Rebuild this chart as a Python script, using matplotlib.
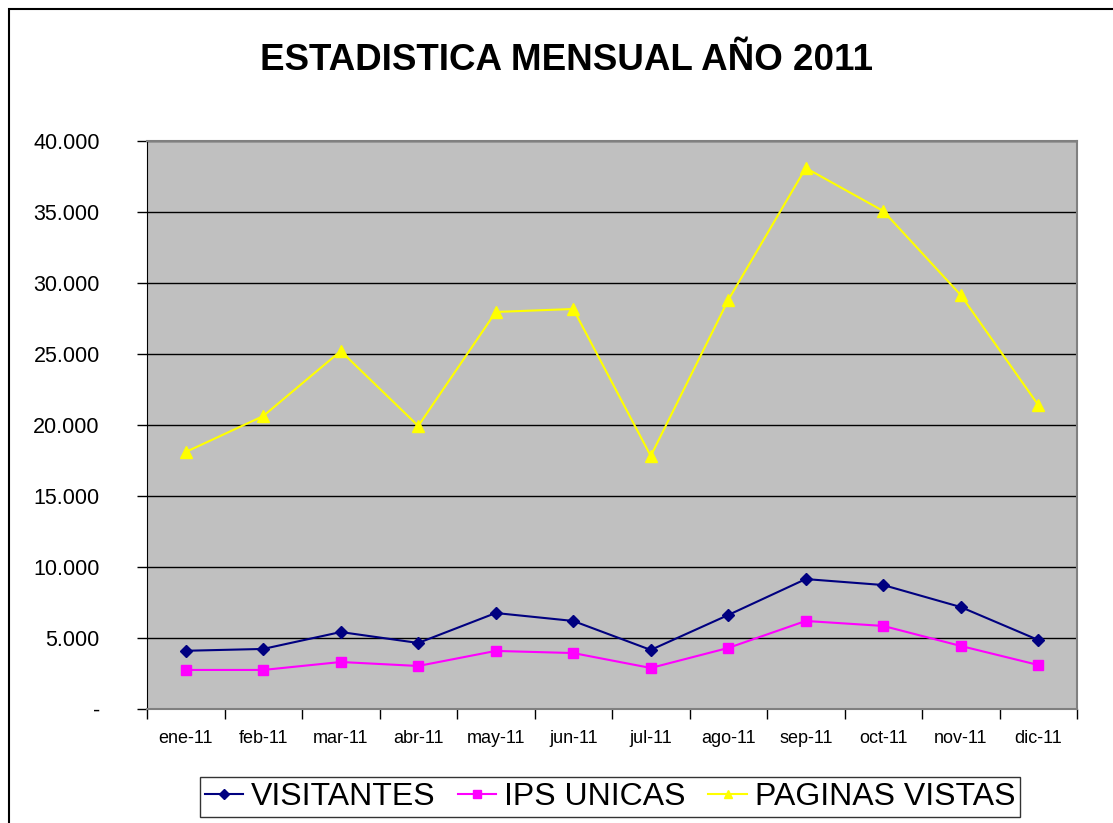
import matplotlib.pyplot as plt
from matplotlib.patches import Rectangle
from matplotlib.ticker import FuncFormatter, FixedLocator

# monthly data, 2011
months = ['ene-11', 'feb-11', 'mar-11', 'abr-11', 'may-11', 'jun-11',
          'jul-11', 'ago-11', 'sep-11', 'oct-11', 'nov-11', 'dic-11']
visitantes = [4100, 4230, 5420, 4650, 6760, 6200, 4160, 6620, 9150, 8730, 7180, 4860]
ips_unicas = [2750, 2750, 3310, 3030, 4090, 3940, 2890, 4300, 6200, 5850, 4440, 3100]
paginas_vistas = [18100, 20630, 25210, 19930, 27960, 28170, 17820, 28800, 38100, 35070, 29150, 21410]

plt.rcParams['font.family'] = ['Liberation Sans', 'DejaVu Sans']

fig = plt.figure(figsize=(11.13, 8.23), dpi=100)
ax = fig.add_axes([147 / 1113, 1 - 709 / 823, (1077 - 147) / 1113, (709 - 141) / 823])

# outer chart frame (right and bottom edges run off the picture)
fig.patches.append(Rectangle((9 / 1113, -0.05), 1.1, 1 - 9 / 823 + 0.05,
                             transform=fig.transFigure, fill=False,
                             edgecolor='black', linewidth=1.5))

x = list(range(len(months)))
ax.plot(x, visitantes, color='#000080', marker='D', markersize=6, linewidth=1.5, label='VISITANTES')
ax.plot(x, ips_unicas, color='#FF00FF', marker='s', markersize=7, linewidth=1.5, label='IPS UNICAS')
ax.plot(x, paginas_vistas, color='#FFFF00', marker='^', markersize=8, linewidth=1.5, label='PAGINAS VISTAS')

ax.set_facecolor('#C0C0C0')
ax.set_xlim(-0.5, len(months) - 0.5)
ax.set_ylim(0, 40000)
ax.set_yticks(range(0, 40001, 5000))
ax.yaxis.set_major_formatter(FuncFormatter(
    lambda v, p: '-' if v == 0 else f'{int(v):,}'.replace(',', '.')))
ax.grid(axis='y', color='black', linewidth=1)
ax.set_axisbelow(True)

# category labels centred, tick marks on the category boundaries
ax.set_xticks(x)
ax.set_xticklabels(months, fontsize=13)
ax.tick_params(axis='x', which='major', length=0, pad=15)
ax.xaxis.set_minor_locator(FixedLocator([i - 0.5 for i in range(len(months) + 1)]))
ax.tick_params(axis='x', which='minor', length=7, width=1, color='black')
ax.tick_params(axis='y', labelsize=15.5, length=7, width=1, pad=27)

for side in ['top', 'right', 'bottom']:
    ax.spines[side].set_color('#808080')
    ax.spines[side].set_linewidth(1.5)
ax.spines['left'].set_color('black')

fig.text(567 / 1113, 1 - 60 / 823, 'ESTADISTICA MENSUAL AÑO 2011',
         ha='center', va='center', fontsize=26.5, fontweight='bold')

leg = fig.legend(loc='center', bbox_to_anchor=(610 / 1113, 1 - 797 / 823), ncol=3,
                 fontsize=23, frameon=True, fancybox=False, edgecolor='black',
                 handlelength=1.2, handletextpad=0.25, columnspacing=0.7,
                 borderpad=0.15, markerscale=0.8)
leg.get_frame().set_linewidth(1)

fig.savefig('out.png', dpi=100)
